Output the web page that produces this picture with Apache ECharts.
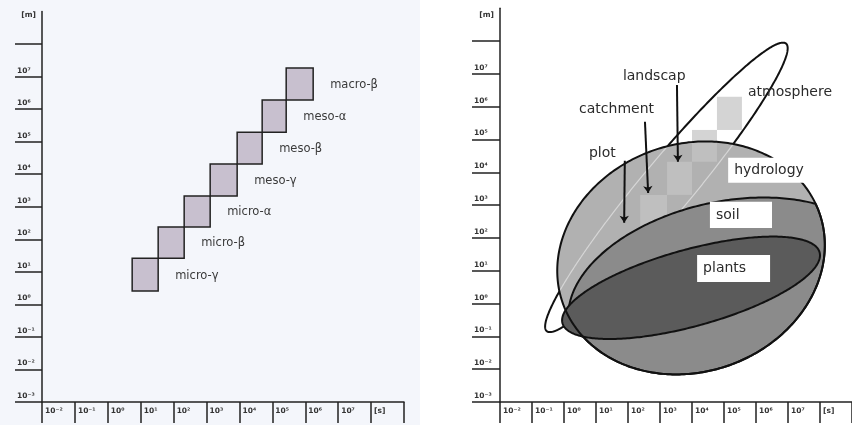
<!DOCTYPE html>
<html><head><meta charset="utf-8">
<script src="https://cdn.jsdelivr.net/npm/echarts@6/dist/echarts.min.js"></script>
<style>html,body{margin:0;padding:0;background:#fff}#c{width:852px;height:425px}</style>
</head><body><div id="c"></div>
<script>
// ---------- axis ticks (log10 units) ----------
const timeTickValues = [-2,-1,0,1,2,3,4,5,6,7,8];
const timeTickLabels = ['10⁻²','10⁻¹','10⁰','10¹','10²','10³','10⁴','10⁵','10⁶','10⁷','[s]'];
const sizeTickValues = [-3,-2,-1,0,1,2,3,4,5,6,7];
const sizeTickLabels = ['10⁻³','10⁻²','10⁻¹','10⁰','10¹','10²','10³','10⁴','10⁵','10⁶','10⁷'];
const sizeTickMarks  = [-3,-2,-1,0,1,2,3,4,5,6,7,8];

// ---------- left panel: meteorological scales (log10 s, log10 m) ----------
const scaleNames    = ['micro-γ','micro-β','micro-α','meso-γ','meso-β','meso-α','macro-β'];
const scaleTimeFrom = [0.74,1.53,2.32,3.11,3.93,4.69,5.42];
const scaleTimeTo   = [1.53,2.32,3.11,3.93,4.69,5.42,6.24];
const scaleSizeFrom = [0.41,1.42,2.38,3.33,4.31,5.29,6.28];
const scaleSizeTo   = [1.42,2.38,3.33,4.31,5.29,6.28,7.26];

// ---------- right panel: domains as ellipses ----------
const domainNames  = ['hydrology','soil','plants','atmosphere'];
const domainCx     = [3.97, 5.03, 3.97, 3.20];
const domainCy     = [1.39, 0.35, 0.48, 3.54];
const domainMajor  = [4.24, 4.97, 4.16, 5.76];
const domainMinor  = [3.48, 2.75, 1.17, 0.80];
const domainAngle  = [16.9, 12, 15, 49.5];

// light grey scale squares (right panel)
const sqTimeFrom = [2.38, 3.22, 4.00, 4.78];
const sqTimeTo   = [3.22, 4.00, 4.78, 5.56];
const sqSizeFrom = [2.34, 3.31, 4.32, 5.29];
const sqSizeTo   = [3.31, 4.32, 5.29, 6.30];

// boxed labels
const boxNames    = ['hydrology','soil','plants'];
const boxTimeFrom = [5.13, 4.56, 4.16];
const boxTimeTo   = [7.59, 6.50, 6.44];
const boxSizeFrom = [3.68, 2.30, 0.66];
const boxSizeTo   = [4.44, 3.10, 1.48];

// free labels and arrows
const noteNames = ['landscap','catchment','plot','atmosphere'];
const noteTime  = [1.84, 0.47, 0.78, 5.75];
const noteSize  = [6.91, 5.93, 4.59, 6.45];
const arrowFromTime = [3.53, 2.53, 1.90];
const arrowFromSize = [6.66, 5.54, 4.35];
const arrowToTime   = [3.56, 2.63, 1.88];
const arrowToSize   = [4.32, 3.37, 2.46];

// ---------- helpers ----------
function ellPoint(i, t){
  const th = domainAngle[i]*Math.PI/180, a = domainMajor[i], b = domainMinor[i];
  return [domainCx[i] + a*Math.cos(t)*Math.cos(th) - b*Math.sin(t)*Math.sin(th),
          domainCy[i] + a*Math.cos(t)*Math.sin(th) + b*Math.sin(t)*Math.cos(th)];
}
function ellPoints(i, n){ const r=[]; for(let k=0;k<n;k++) r.push(ellPoint(i, 2*Math.PI*k/n)); return r; }
function inside(i, p){
  const th = domainAngle[i]*Math.PI/180, dx=p[0]-domainCx[i], dy=p[1]-domainCy[i];
  const u = dx*Math.cos(th)+dy*Math.sin(th), v = -dx*Math.sin(th)+dy*Math.cos(th);
  return (u/domainMajor[i])**2 + (v/domainMinor[i])**2 <= 1;
}
function intersection(i, j){
  const pts = ellPoints(i, 360).filter(p=>inside(j,p)).concat(ellPoints(j,360).filter(p=>inside(i,p)));
  const cx = pts.reduce((s,p)=>s+p[0],0)/pts.length, cy = pts.reduce((s,p)=>s+p[1],0)/pts.length;
  return pts.sort((p,q)=>Math.atan2(p[1]-cy,p[0]-cx)-Math.atan2(q[1]-cy,q[0]-cx));
}
function runs(i, j, wantInside){
  const n=720, pts=ellPoints(i,n), flags=pts.map(p=>inside(j,p)===wantInside);
  let start = flags.indexOf(false); if(start<0) return [pts.concat([pts[0]])];
  const out=[]; let cur=null;
  for(let k=1;k<=n;k++){ const idx=(start+k)%n;
    if(flags[idx]){ if(!cur) cur=[]; cur.push(pts[idx]); } else if(cur){ out.push(cur); cur=null; } }
  if(cur) out.push(cur);
  return out;
}

const FONT_AX = 'bold 7.5px "DejaVu Sans"';
const axisTxt = {color:'#333', fontSize:7.5, fontWeight:'bold', fontFamily:'DejaVu Sans'};
function xAxisCfg(gi){ return {
  type:'value', gridIndex:gi, min:-2, max:9, interval:1,
  axisLine:{show:true, onZero:false, lineStyle:{color:'#222', width:1.5}},
  axisTick:{show:true, length:21, lineStyle:{color:'#222', width:1.5}},
  axisLabel:Object.assign({show:true, customValues:timeTickValues,
    formatter:v=>timeTickLabels[timeTickValues.indexOf(v)], align:'left', margin:5, padding:[0,0,0,3]}, axisTxt),
  splitLine:{show:false}
};}
function yAxisCfg(gi, len, gap){ return {
  type:'value', gridIndex:gi, min:-3, max:9, interval:1,
  axisLine:{show:true, onZero:false, lineStyle:{color:'#222', width:1.5}},
  axisTick:{show:true, length:len, customValues:sizeTickMarks, lineStyle:{color:'#222', width:1.5}},
  axisLabel:Object.assign({show:true, customValues:sizeTickValues,
    formatter:v=>sizeTickLabels[sizeTickValues.indexOf(v)], align:'left', verticalAlign:'bottom', margin:len-2, padding:[0,0,2,0]}, axisTxt),
  splitLine:{show:false},
  name:'[m]', nameLocation:'end', nameGap:gap,
  nameTextStyle:Object.assign({align:'right', verticalAlign:'middle', padding:[0,6,0,0]}, axisTxt)
};}

const rightAxes = {xAxisIndex:1, yAxisIndex:1};
const series = [
  { // left: scale squares
    type:'custom', xAxisIndex:0, yAxisIndex:0, z:5,
    data: scaleNames.map((n,i)=>[scaleTimeFrom[i], scaleSizeFrom[i], scaleTimeTo[i], scaleSizeTo[i]]),
    renderItem(params, api){
      const p0 = api.coord([api.value(0), api.value(1)]), p1 = api.coord([api.value(2), api.value(3)]);
      return {type:'group', children:[
        {type:'rect', shape:{x:p0[0], y:p1[1], width:p1[0]-p0[0], height:p0[1]-p1[1]},
         style:{fill:'#c8c0cf', stroke:'#222', lineWidth:1.5}},
        {type:'text', style:{text:scaleNames[params.dataIndex], x:p1[0]+17, y:p0[1]-15,
         fill:'#3a3a3a', font:'11.5px "DejaVu Sans"', textVerticalAlign:'middle', verticalAlign:'middle'}}
      ]};
    }
  },
  Object.assign({ // atmosphere outline
    type:'custom', z:2, data:[[domainCx[3], domainCy[3]]],
    renderItem(params, api){
      const pts = ellPoints(3, 360).map(p=>api.coord(p));
      return {type:'polygon', shape:{points:pts}, style:{fill:null, stroke:'#111', lineWidth:2}};
    }
  }, rightAxes),
  Object.assign({ // grey squares
    type:'custom', z:3, data: sqTimeFrom.map((v,i)=>[sqTimeFrom[i], sqSizeFrom[i], sqTimeTo[i], sqSizeTo[i]]),
    renderItem(params, api){
      const p0 = api.coord([api.value(0), api.value(1)]), p1 = api.coord([api.value(2), api.value(3)]);
      return {type:'rect', shape:{x:p0[0], y:p1[1], width:p1[0]-p0[0], height:p0[1]-p1[1]}, style:{fill:'#cbcbcb'}};
    }
  }, rightAxes),
  Object.assign({ // hydrology (outer) fill
    type:'custom', z:4, data:[[domainCx[0], domainCy[0]]],
    renderItem(params, api){
      const pts = ellPoints(0, 360).map(p=>api.coord(p));
      return {type:'polygon', shape:{points:pts}, style:{fill:'#b1b1b1'}};
    }
  }, rightAxes),
  Object.assign({ // squares showing through
    type:'custom', z:5, data: sqTimeFrom.map((v,i)=>[sqTimeFrom[i], sqSizeFrom[i], sqTimeTo[i], sqSizeTo[i]]),
    renderItem(params, api){
      const p0 = api.coord([api.value(0), api.value(1)]), p1 = api.coord([api.value(2), api.value(3)]);
      return {type:'rect', shape:{x:p0[0], y:p1[1], width:p1[0]-p0[0], height:p0[1]-p1[1]}, style:{fill:'#ffffff', opacity:0.18}};
    }
  }, rightAxes),
  Object.assign({ // atmosphere inside hydrology: faint line
    type:'custom', z:6, data:[[domainCx[3], domainCy[3]]],
    renderItem(params, api){
      return {type:'group', children: runs(3, 0, true).map(r=>({type:'polyline',
        shape:{points:r.map(p=>api.coord(p))}, style:{fill:null, stroke:'#d6d6d6', lineWidth:1.2}}))};
    }
  }, rightAxes),
  Object.assign({ // soil & plants
    type:'custom', z:7, data:[[domainCx[1], domainCy[1]],[domainCx[2], domainCy[2]]],
    renderItem(params, api){
      if(params.dataIndex===0){
        const pts = intersection(1, 0).map(p=>api.coord(p));
        return {type:'polygon', shape:{points:pts}, style:{fill:'#8b8b8b', stroke:'#111', lineWidth:2}};
      }
      const pts = ellPoints(2, 360).map(p=>api.coord(p));
      return {type:'polygon', shape:{points:pts}, style:{fill:'#5b5b5b', stroke:'#111', lineWidth:2}};
    }
  }, rightAxes),
  Object.assign({ // outer stroke
    type:'custom', z:8, data:[[domainCx[0], domainCy[0]]],
    renderItem(params, api){
      const pts = ellPoints(0, 360).map(p=>api.coord(p));
      return {type:'polygon', shape:{points:pts}, style:{fill:null, stroke:'#111', lineWidth:2}};
    }
  }, rightAxes),
  Object.assign({ // boxed labels
    type:'custom', z:9, data: boxNames.map((n,i)=>[boxTimeFrom[i], boxSizeFrom[i], boxTimeTo[i], boxSizeTo[i]]),
    renderItem(params, api){
      const p0 = api.coord([api.value(0), api.value(1)]), p1 = api.coord([api.value(2), api.value(3)]);
      return {type:'group', children:[
        {type:'rect', shape:{x:p0[0], y:p1[1], width:p1[0]-p0[0], height:p0[1]-p1[1]}, style:{fill:'#ffffff'}},
        {type:'text', style:{text:boxNames[params.dataIndex], x:p0[0]+6, y:(p0[1]+p1[1])/2,
          fill:'#2b2b2b', font:'14px "DejaVu Sans"', textVerticalAlign:'middle', verticalAlign:'middle'}}
      ]};
    }
  }, rightAxes),
  Object.assign({ // free labels
    type:'custom', z:9, data: noteNames.map((n,i)=>[noteTime[i], noteSize[i]]),
    renderItem(params, api){
      const p = api.coord([api.value(0), api.value(1)]);
      return {type:'text', style:{text:noteNames[params.dataIndex], x:p[0], y:p[1],
        fill:'#2b2b2b', font:'14px "DejaVu Sans"', textVerticalAlign:'middle', verticalAlign:'middle'}};
    }
  }, rightAxes),
  Object.assign({ // arrows
    type:'lines', coordinateSystem:'cartesian2d', z:10, symbol:['none','arrow'], symbolSize:7,
    lineStyle:{color:'#111', width:2, opacity:1},
    data: arrowFromTime.map((v,i)=>({coords:[[arrowFromTime[i], arrowFromSize[i]],[arrowToTime[i], arrowToSize[i]]]}))
  }, rightAxes)
];

const chart = echarts.init(document.getElementById('c'));
chart.setOption({
  animation:false,
  backgroundColor:'#ffffff',
  graphic:[{type:'rect', left:0, top:0, z:-10, silent:true, shape:{width:420, height:425}, style:{fill:'#f4f6fb'}}],
  grid:[
    {left:42, top:11.5, width:362, height:390.5, outerBoundsMode:'none', containLabel:false},
    {left:500, top:8.2, width:352, height:393.8, outerBoundsMode:'none', containLabel:false}
  ],
  xAxis:[xAxisCfg(0), xAxisCfg(1)],
  yAxis:[yAxisCfg(0, 27, -4), yAxisCfg(1, 28, -7)],
  series
});
</script></body></html>
